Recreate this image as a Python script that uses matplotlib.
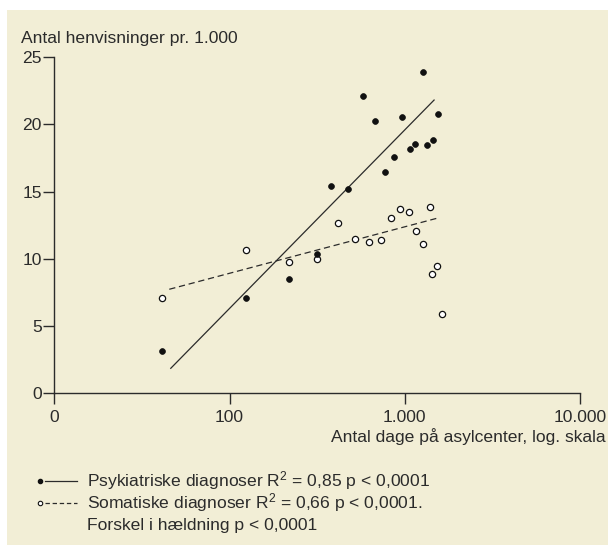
import matplotlib
matplotlib.use('Agg')
import matplotlib.pyplot as plt
from matplotlib.patches import Rectangle
from matplotlib.lines import Line2D
from matplotlib.ticker import FixedLocator, FixedFormatter, NullLocator

# ---- data ----
psych_days = [41.3, 124.3, 219.4, 314.5, 381, 474.7, 580, 674.3, 768.9, 865.5,
              961, 1072, 1149, 1277, 1341, 1445, 1543]
psych_refs = [3.17, 7.09, 8.48, 10.34, 15.40, 15.20, 22.12, 20.26, 16.43, 17.60,
              20.56, 18.18, 18.55, 23.88, 18.45, 18.87, 20.76]
som_days = [41.3, 124.3, 218.6, 314.5, 416.2, 518.3, 623, 729.5, 835.3, 943.9,
            1058, 1156, 1272, 1395, 1426, 1529, 1639]
som_refs = [7.11, 10.66, 9.79, 9.96, 12.67, 11.46, 11.28, 11.41, 13.02, 13.69,
            13.51, 12.10, 11.13, 13.88, 8.85, 9.49, 5.90]
psych_fit_days = [46.2, 1470]
psych_fit_refs = [1.86, 21.82]
som_fit_days = [45.3, 1523]
som_fit_refs = [7.74, 13.02]
x_ticks = [10, 100, 1000, 10000]
x_tick_labels = ['0', '100', '1.000', '10.000']
y_ticks = [0, 5, 10, 15, 20, 25]
y_tick_labels = ['0', '5', '10', '15', '20', '25']
y_title = 'Antal henvisninger pr. 1.000'
x_title = 'Antal dage på asylcenter, log. skala'
legend_lines = ['Psykiatriske diagnoser R$^2$ = 0,85 p < 0,0001',
                'Somatiske diagnoser R$^2$ = 0,66 p < 0,0001.',
                'Forskel i hældning p < 0,0001']

FONT = 'Liberation Sans'
plt.rcParams['font.family'] = [FONT, 'DejaVu Sans']
plt.rcParams['mathtext.fontset'] = 'custom'
plt.rcParams['mathtext.rm'] = FONT
plt.rcParams['mathtext.it'] = FONT + ':italic'
plt.rcParams['mathtext.bf'] = FONT + ':bold'

BG = '#f2eed6'
INK = '#2b2b2b'
FS = 12.6
W, H = 608, 545
fig = plt.figure(figsize=(W / 100, H / 100), dpi=100)
fig.patch.set_facecolor('white')
fig.patches.append(Rectangle((7 / W, 0), 1 - 7 / W, 1 - 10 / H, transform=fig.transFigure,
                             facecolor=BG, edgecolor='none', zorder=-10))

def fx(px):
    return px / W

def fy(py):
    return 1 - py / H

x0, x1 = 54.3, 580.0
y0, y1 = 393.3, 57.3
ax = fig.add_axes([fx(x0), fy(y0), fx(x1) - fx(x0), fy(y1) - fy(y0)])
ax.set_facecolor('none')
ax.set_xscale('log')
ax.set_xlim(10, 10000)
ax.set_ylim(0, 25)
for s in ['top', 'right']:
    ax.spines[s].set_visible(False)
for s in ['left', 'bottom']:
    ax.spines[s].set_color(INK)
    ax.spines[s].set_linewidth(1.0)
ax.xaxis.set_major_locator(FixedLocator(x_ticks))
ax.xaxis.set_major_formatter(FixedFormatter(x_tick_labels))
ax.xaxis.set_minor_locator(NullLocator())
ax.set_yticks(y_ticks)
ax.set_yticklabels(y_tick_labels)
ax.tick_params(axis='both', direction='out', length=8, width=1.0, color=INK,
               labelcolor=INK, labelsize=FS)
ax.tick_params(axis='x', pad=4)
ax.tick_params(axis='y', pad=1)

ax.plot(psych_fit_days, psych_fit_refs, color=INK, lw=0.9, zorder=2)
ax.plot(som_fit_days, som_fit_refs, color=INK, lw=0.9, ls=(0, (5, 3)), zorder=2)
ax.plot(som_days, som_refs, ls='none', marker='o', ms=4.5, mfc='white', mec='#111111',
        mew=0.9, zorder=3, clip_on=False)
ax.plot(psych_days, psych_refs, ls='none', marker='o', ms=4.2, mfc='#111111', mec='#111111',
        mew=0.5, zorder=4, clip_on=False)

fig.text(fx(20.7), fy(43.3), y_title, ha='left', va='baseline', fontsize=FS, color=INK)
fig.text(fx(606), fy(442), x_title, ha='right', va='baseline', fontsize=FS, color=INK)

# legend (hand-drawn)
base = [486.7, 508.2, 530.0]
mid = [481.0, 502.5]
fig.add_artist(Line2D([fx(40)], [fy(mid[0])], transform=fig.transFigure, marker='o', ms=3.0,
                      mfc='#111111', mec='#111111', ls='none'))
fig.add_artist(Line2D([fx(45), fx(77)], [fy(mid[0])] * 2, transform=fig.transFigure,
                      color=INK, lw=0.9))
fig.add_artist(Line2D([fx(40)], [fy(mid[1])], transform=fig.transFigure, marker='o', ms=3.2,
                      mfc='white', mec='#111111', mew=0.8, ls='none'))
fig.add_artist(Line2D([fx(45), fx(77)], [fy(mid[1])] * 2, transform=fig.transFigure,
                      color=INK, lw=0.9, ls=(0, (3.5, 2.2))))
for t, b in zip(legend_lines, base):
    fig.text(fx(87.3), fy(b), t, ha='left', va='baseline', fontsize=FS, color=INK)

fig.savefig('out.png', dpi=100, facecolor=fig.get_facecolor())
